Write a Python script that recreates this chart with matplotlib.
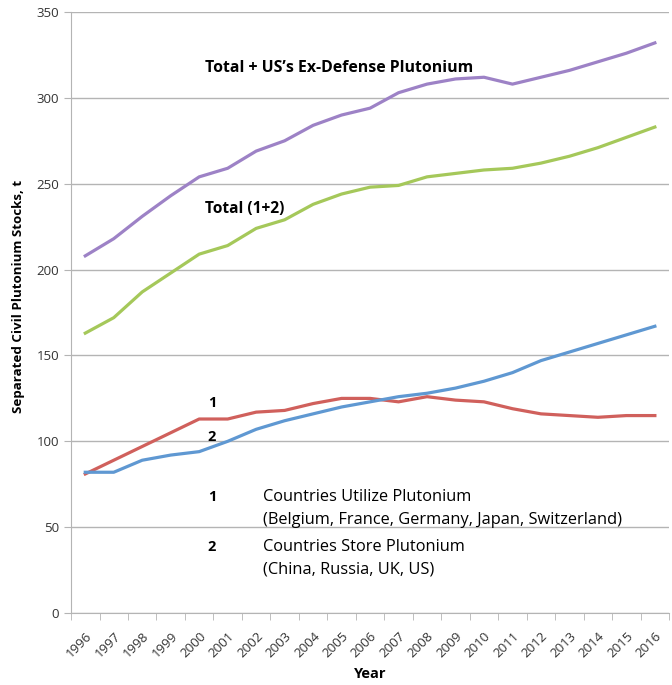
import numpy as np
import matplotlib.pyplot as plt

plt.rcParams['font.family'] = ['Open Sans', 'DejaVu Sans']

years = list(range(1996, 2017))
total_exdef = [208, 218, 231, 243, 254, 259, 269, 275, 284, 290, 294, 303, 308, 311, 312, 308, 312, 316, 321, 326, 332]
total_12 = [163, 172, 187, 198, 209, 214, 224, 229, 238, 244, 248, 249, 254, 256, 258, 259, 262, 266, 271, 277, 283]
utilize = [81, 89, 97, 105, 113, 113, 117, 118, 122, 125, 125, 123, 126, 124, 123, 119, 116, 115, 114, 115, 115]
store = [82, 82, 89, 92, 94, 100, 107, 112, 116, 120, 123, 126, 128, 131, 135, 140, 147, 152, 157, 162, 167]

x = np.arange(len(years))

fig = plt.figure(figsize=(6.72, 6.85), dpi=100)
ax = fig.add_axes([0.1057, 0.105, 0.89, 0.8775])

ax.plot(x, total_exdef, color='#9d82c6', lw=2.3)
ax.plot(x, total_12, color='#a5c85a', lw=2.3)
ax.plot(x, utilize, color='#d0605c', lw=2.3)
ax.plot(x, store, color='#5f98d2', lw=2.3)

ax.set_xlim(-0.5, len(years) - 0.5)
ax.set_ylim(0, 350)
ax.set_yticks(np.arange(0, 351, 50))
ax.yaxis.grid(True, color='#b4b4b4', lw=1)
ax.set_axisbelow(True)

ax.set_xticks(x)
ax.set_xticklabels([str(y) for y in years], rotation=45, ha='right', rotation_mode='anchor')
ax.set_xticks(np.arange(-0.5, len(years)), minor=True)
ax.tick_params(axis='x', which='major', length=0, pad=12, labelsize=9.5, labelcolor='#333333')
ax.tick_params(axis='x', which='minor', length=5, color='#b4b4b4')
ax.tick_params(axis='y', length=5, color='#b4b4b4', labelsize=9.5, labelcolor='#333333')

for s in ['top', 'right']:
    ax.spines[s].set_visible(False)
for s in ['left', 'bottom']:
    ax.spines[s].set_color('#b4b4b4')

ax.set_ylabel('Separated Civil Plutonium Stocks, t', fontsize=9.6, fontweight='bold')
ax.yaxis.set_label_coords(-0.077, 0.527)
ax.set_xlabel('Year', fontsize=10.5, fontweight='bold', labelpad=5)

# series annotations
ax.text(8.9, 317.5, 'Total + US\u2019s Ex-Defense Plutonium', fontsize=11.4, fontweight='bold', ha='center', va='center')
ax.text(4.2, 235, 'Total (1+2)', fontsize=11.2, fontweight='bold', ha='left', va='center')
ax.text(4.45, 122.3, '1', fontsize=10.5, fontweight='bold', ha='center', va='center')
ax.text(4.45, 102.5, '2', fontsize=10.5, fontweight='bold', ha='center', va='center')

# legend block
ax.text(4.45, 67.6, '1', fontsize=10.5, fontweight='bold', ha='center', va='center')
ax.text(6.24, 67.6, 'Countries Utilize Plutonium', fontsize=11.8, ha='left', va='center')
ax.text(6.24, 54.2, '(Belgium, France, Germany, Japan, Switzerland)', fontsize=11.8, ha='left', va='center')
ax.text(4.45, 38.4, '2', fontsize=10.5, fontweight='bold', ha='center', va='center')
ax.text(6.24, 38.4, 'Countries Store Plutonium', fontsize=11.8, ha='left', va='center')
ax.text(6.24, 25.6, '(China, Russia, UK, US)', fontsize=11.8, ha='left', va='center')

fig.savefig('out.png', dpi=100)
